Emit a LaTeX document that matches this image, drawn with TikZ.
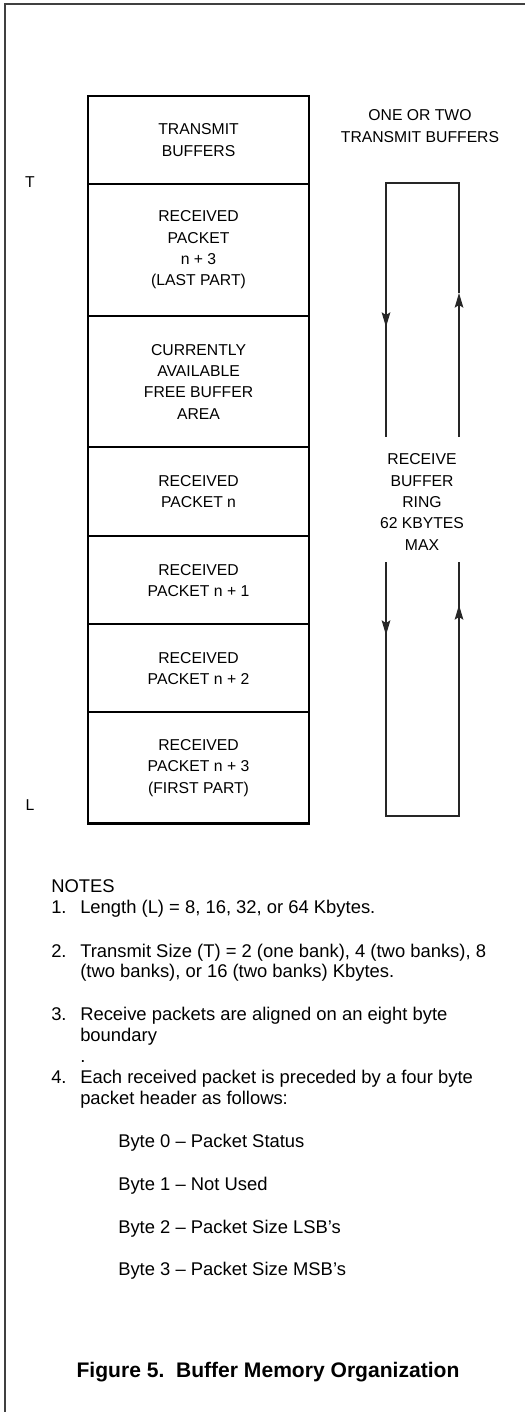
\documentclass[tikz,border=0pt]{standalone}
\usepackage{fontspec}
\setmainfont{Liberation Sans}
\usetikzlibrary{positioning,arrows.meta}

\begin{document}
\begin{tikzpicture}[
  x=0.75pt,y=-0.75pt,
  >={Stealth[length=11pt,width=6.5pt,inset=2pt]},
  cell/.style={draw,line width=0.8pt,minimum width=165pt,align=center,
    inner sep=0pt,font=\fontsize{11.8}{16}\selectfont},
  lbl/.style={align=center,font=\fontsize{11.8}{16}\selectfont},
  note/.style={anchor=base west,inner sep=0pt,font=\fontsize{13.8}{15.6}\selectfont},
  ring/.style={line width=0.8pt,black!85},
  flow/.style={->,line width=0.8pt,black!85}
]
  \useasboundingbox (0,0) rectangle (525,1412);
  % page frame (cut at the right and bottom)
  \draw[line width=1.2pt,black!75] (5,1412) -- (5,4) -- (525,4);

  % buffer memory column
  \node[cell,minimum height=65.25pt,anchor=north west] (tx) at (88,96) {TRANSMIT\\BUFFERS};
  \node[cell,minimum height=98.25pt,below=0pt of tx] (lastpart) {RECEIVED\\PACKET\\n + 3\\(LAST PART)};
  \node[cell,minimum height=97.5pt,below=0pt of lastpart] (free) {CURRENTLY\\AVAILABLE\\FREE BUFFER\\AREA};
  \node[cell,minimum height=66pt,below=0pt of free] (pk0) {RECEIVED\\PACKET n};
  \node[cell,minimum height=65.25pt,below=0pt of pk0] (pk1) {RECEIVED\\PACKET n + 1};
  \node[cell,minimum height=65.25pt,below=0pt of pk1] (pk2) {RECEIVED\\PACKET n + 2};
  \node[cell,minimum height=82.5pt,below=0pt of pk2] (firstpart) {RECEIVED\\PACKET n + 3\\(FIRST PART)};
  \draw[line width=1.6pt] (tx.north west) rectangle (firstpart.south east);

  \node[lbl] (tmark) at (30,182) {T};
  \node[lbl] (lmark) at (30,805) {L};

  % receive ring
  \node[lbl] (txnote) at (420,126) {ONE OR TWO\\TRANSMIT BUFFERS};
  \node[lbl] (ringnote) at (422,502) {RECEIVE\\BUFFER\\RING\\62 KBYTES\\MAX};
  \coordinate (ltop) at (386,183);
  \coordinate (rtop) at (459,183);
  \coordinate (lend1) at (386,437);
  \coordinate (rend1) at (459,437);
  \coordinate (lbeg2) at (386,562);
  \coordinate (rbeg2) at (459,562);
  \coordinate (lbot) at (386,816);
  \coordinate (rbot) at (459,816);
  \coordinate (ldown1) at (386,327);
  \coordinate (rup1) at (459,293);
  \coordinate (ldown2) at (386,635);
  \coordinate (rup2) at (459,605);

  \draw[ring] (rup1) -- (rtop) -- (ltop) -- (ldown1);
  \draw[flow] (ltop) -- (ldown1);
  \draw[ring] (ldown1) -- (lend1);
  \draw[flow] (rend1) -- (rup1);
  \draw[ring] (lbeg2) -- (ldown2);
  \draw[flow] (lbeg2) -- (ldown2);
  \draw[ring] (ldown2) -- (lbot) -- (rbot) -- (rup2);
  \draw[flow] (rbot) -- (rup2);
  \draw[ring] (rup2) -- (rbeg2);

  % notes
  \node[note] (nhead) at (51,892) {NOTES};
  \node[note] (n1) at (51,913) {1.};
  \node[note] (n1a) at (80,913) {Length (L) = 8, 16, 32, or 64 Kbytes.};
  \node[note] (n2) at (51,957) {2.};
  \node[note] (n2a) at (80,957) {Transmit Size (T) = 2 (one bank), 4 (two banks), 8};
  \node[note] (n2b) at (80,977) {(two banks), or 16 (two banks) Kbytes.};
  \node[note] (n3) at (51,1020) {3.};
  \node[note] (n3a) at (80,1020) {Receive packets are aligned on an eight byte};
  \node[note] (n3b) at (80,1041) {boundary};
  \node[note] (n3c) at (80,1062) {.};
  \node[note] (n4) at (51,1083) {4.};
  \node[note] (n4a) at (80,1083) {Each received packet is preceded by a four byte};
  \node[note] (n4b) at (80,1104) {packet header as follows:};
  \node[note] (b0) at (118,1147) {Byte 0 -- Packet Status};
  \node[note] (b1) at (118,1190) {Byte 1 -- Not Used};
  \node[note] (b2) at (118,1233) {Byte 2 -- Packet Size LSB's};
  \node[note] (b3) at (118,1275) {Byte 3 -- Packet Size MSB's};

  \node[anchor=base,inner sep=0pt,font=\fontsize{15.8}{18}\selectfont\bfseries] (caption) at (268,1377)
    {Figure 5.\ \ Buffer Memory Organization};
\end{tikzpicture}
\end{document}
